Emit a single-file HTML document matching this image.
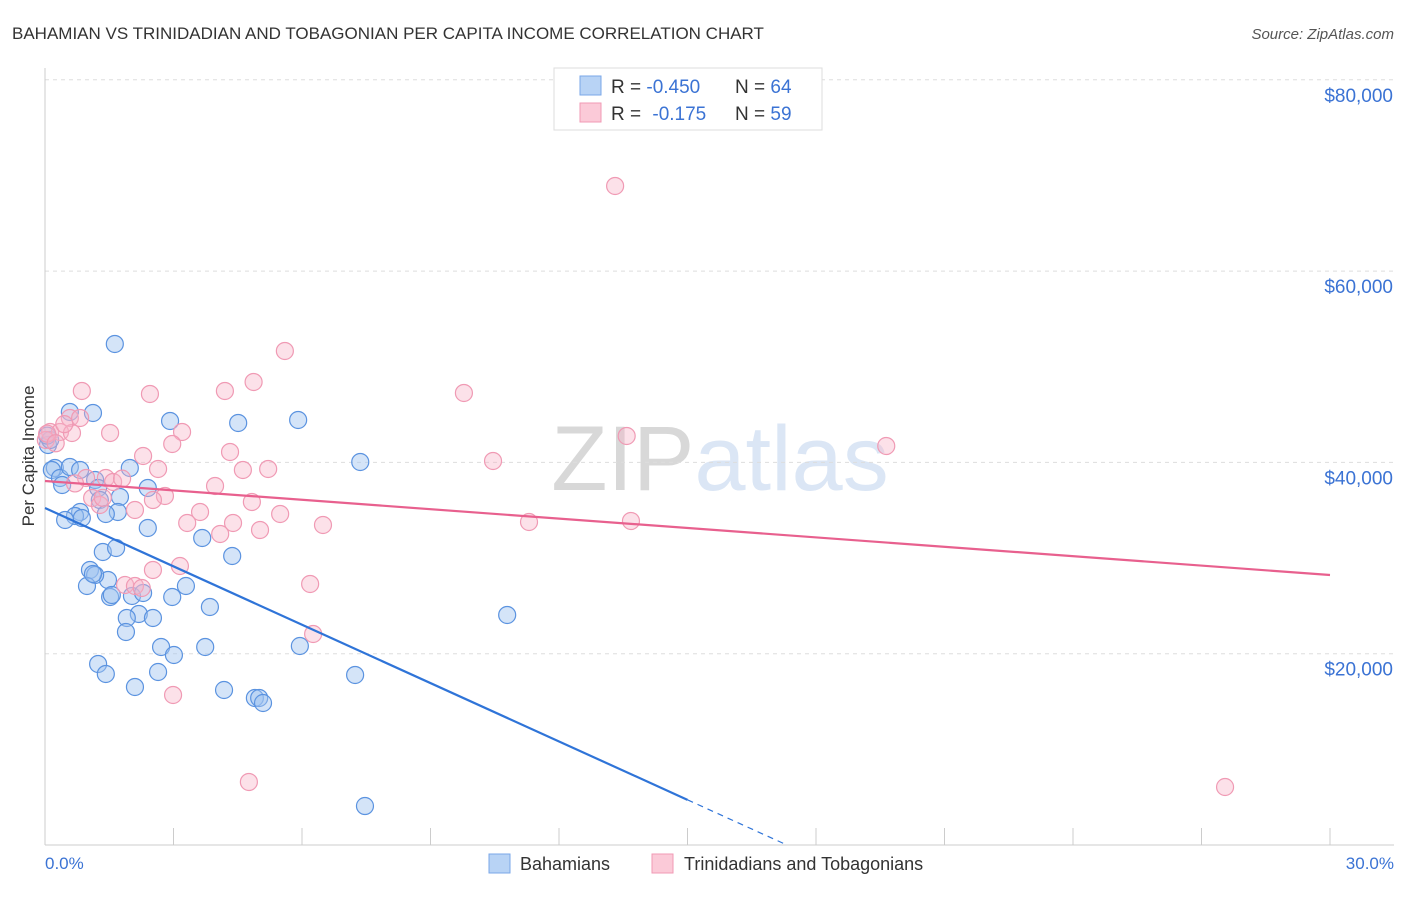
<!DOCTYPE html>
<html><head><meta charset="utf-8"><style>
body{margin:0;background:#fff;font-family:"Liberation Sans",sans-serif;}
svg text{font-family:"Liberation Sans",sans-serif;}
</style></head><body>
<svg id="chart" width="1406" height="892" xmlns="http://www.w3.org/2000/svg">
<text x="12" y="39" font-size="17" fill="#333">BAHAMIAN VS TRINIDADIAN AND TOBAGONIAN PER CAPITA INCOME CORRELATION CHART</text>
<text x="1394" y="39" font-size="15" fill="#555" text-anchor="end" font-style="italic">Source: ZipAtlas.com</text>
<text x="720" y="490" font-size="92" fill="#e4e4e4" text-anchor="middle" font-family="Liberation Serif"><tspan fill="#d8d8d8">ZIP</tspan><tspan fill="#dbe6f5" font-family="Liberation Sans">atlas</tspan></text>
<g id="grid"></g>
<line x1="45" y1="845" x2="1394" y2="845" stroke="#ccc"/>
<line x1="45" y1="68" x2="45" y2="845" stroke="#ccc"/>
<text transform="translate(34,456) rotate(-90)" font-size="17" fill="#333" text-anchor="middle">Per Capita Income</text>
<text x="45" y="869" font-size="17" fill="#3b73d4">0.0%</text>
<text x="1394" y="869" font-size="17" fill="#3b73d4" text-anchor="end">30.0%</text>
<g id="points"></g>
<g id="lines"></g>
<g>
<rect x="554" y="68" width="268" height="62" fill="#fff" stroke="#ddd"/>
<rect x="580" y="76" width="21" height="19" fill="#b8d3f5" stroke="#7aa7e8"/>
<rect x="580" y="103" width="21" height="19" fill="#fbcad8" stroke="#f09ab4"/>
<text x="611" y="93" font-size="19" fill="#333">R = <tspan fill="#3b73d4">-0.450</tspan></text>
<text x="735" y="93" font-size="19" fill="#333">N = <tspan fill="#3b73d4">64</tspan></text>
<text x="611" y="120" font-size="19" fill="#333">R =  <tspan fill="#3b73d4" dx="6">-0.175</tspan></text>
<text x="735" y="120" font-size="19" fill="#333">N = <tspan fill="#3b73d4">59</tspan></text>
</g>
<g>
<rect x="489" y="854" width="21" height="19" fill="#b8d3f5" stroke="#7aa7e8"/>
<text x="520" y="870" font-size="18" fill="#333">Bahamians</text></g>
<g>
<rect x="652" y="854" width="21" height="19" fill="#fbcad8" stroke="#f09ab4"/>
<text x="684" y="870" font-size="18" fill="#333">Trinidadians and Tobagonians</text></g>
</svg>
<script>
const yTicks=[20000,40000,60000,80000];
const yTickLabels=["$20,000","$40,000","$60,000","$80,000"];
const xTicks=[0,3,6,9,12,15,18,21,24,27,30];
const blueX=[1.63,1.12,0.58,2.92,4.51,5.91,7.36,0.07,0.12,0.23,0.16,0.35,0.40,0.58,0.82,1.17,1.24,1.28,1.75,1.98,2.40,1.70,1.42,0.82,0.70,0.47,0.86,2.40,3.67,4.37,1.35,1.66,1.47,1.05,1.17,0.98,1.12,1.52,1.56,2.03,2.29,2.97,3.29,3.85,2.19,1.91,2.52,1.89,2.71,3.74,5.95,1.24,1.42,2.64,3.01,2.10,4.18,7.24,4.90,5.00,5.09,10.79,7.47,0.05];
const blueY=[52380,45166,45270,44329,44120,44434,40043,41820,42343,39415,39206,38370,37638,39520,39206,38161,37324,36070,36383,39415,37324,34815,34606,34815,34397,33979,34188,33142,32097,30215,30633,31051,27706,28751,28229,27078,28333,25928,26138,26033,26347,25928,27078,24883,24151,23733,23733,22269,20701,20701,20805,18924,17878,18087,19864,16519,16205,17774,15369,15369,14846,24047,4077,42800];
const pinkX=[13.31,5.60,0.86,2.45,4.20,4.87,9.78,0.58,0.82,1.52,3.20,2.97,4.32,2.29,2.64,4.62,5.21,10.46,13.58,19.64,0.12,0.35,0.63,0.02,0.96,1.42,1.59,3.97,2.80,1.10,1.28,2.52,4.83,2.10,3.62,5.49,3.32,4.39,5.02,6.49,11.30,13.68,4.09,3.15,2.52,6.19,1.87,2.10,2.26,6.26,2.99,4.76,27.55,0.05,0.25,0.45,1.35,0.70,1.80];
const pinkY=[68898,51648,47466,47152,47466,48407,47257,44643,44643,43075,43179,41925,41088,40670,39311,39206,39311,40147,42761,41715,43179,43179,43075,42343,38370,38370,37952,37533,36488,36279,35547,36070,35861,35024,34815,34606,33665,33665,32933,33456,33769,33874,32515,29169,28751,27288,27183,27078,26869,22060,15683,6587,6064,43000,42000,44000,36300,37800,38300];
const trendIntercepts=[35233,38056];
const trendSlopes=[-2034,-327.6];
const NS="http://www.w3.org/2000/svg";
const xs=v=>45+v/30*1285;
const ys=v=>845-v/20000*191.3;
function mk(t,a,p){const e=document.createElementNS(NS,t);for(const k in a)e.setAttribute(k,a[k]);p.appendChild(e);return e;}
const grid=document.getElementById('grid');
yTicks.forEach((t,i)=>{
 const l=mk('line',{x1:45,x2:1394,y1:ys(t),y2:ys(t),stroke:'#ddd','stroke-dasharray':'4,4'},grid);
 
 
 const tx=mk('text',{x:1393,y:ys(t)+22,'font-size':19,fill:'#3b73d4','text-anchor':'end'},grid);
 tx.textContent=yTickLabels[i];
 
 
});
xTicks.forEach(t=>{
 const l=mk('line',{x1:xs(t),x2:xs(t),y1:828,y2:845,stroke:'#ccc'},grid);
 
 
});
const pts=document.getElementById('points');
blueX.forEach((x,i)=>{
 const c=mk('circle',{cx:xs(x),cy:ys(blueY[i]),r:8.5,fill:'rgba(160,196,240,0.45)',stroke:'#5b93e0','stroke-width':1.2},pts);
 
 
});
pinkX.forEach((x,i)=>{
 const c=mk('circle',{cx:xs(x),cy:ys(pinkY[i]),r:8.5,fill:'rgba(248,180,200,0.4)',stroke:'#f09ab4','stroke-width':1.2},pts);
 
 
});
const ln=document.getElementById('lines');
const b0=trendIntercepts[0],b1=trendSlopes[0];
const bl=mk('line',{x1:xs(0),y1:ys(b0),x2:xs(15),y2:ys(b0+b1*15),stroke:'#2f74d8','stroke-width':2.2},ln);


const xz=-b0/b1;
const bd=mk('line',{x1:xs(15),y1:ys(b0+b1*15),x2:xs(xz),y2:ys(0),stroke:'#2f74d8','stroke-width':1.2,'stroke-dasharray':'6,5'},ln);


const p0=trendIntercepts[1],p1=trendSlopes[1];
const pl=mk('line',{x1:xs(0),y1:ys(p0),x2:xs(30),y2:ys(p0+p1*30),stroke:'#e8608e','stroke-width':2.2},ln);


</script>
</body></html>
